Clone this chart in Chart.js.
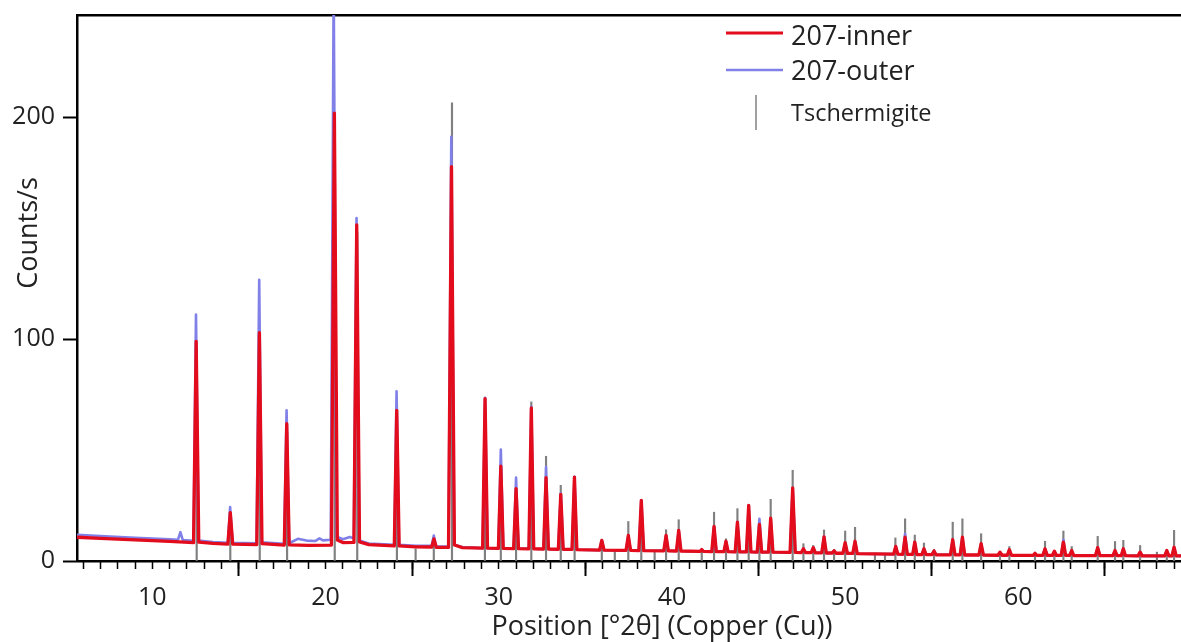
<!DOCTYPE html>
<html><head><meta charset="utf-8">
<script src="https://cdn.jsdelivr.net/npm/chart.js@4/dist/chart.umd.min.js"></script>
<style>html,body{margin:0;padding:0;background:#fff;overflow:hidden}canvas{display:block}</style>
</head><body>
<canvas id="c" width="1181" height="642"></canvas>
<script>
// ---- data ----
const seriesNames = ['207-inner', '207-outer', 'Tschermigite'];
const xAxisTitle = 'Position [°2θ] (Copper (Cu))';
const yAxisTitle = 'Counts/s';
const xTickValues = [10, 20, 30, 40, 50, 60];
const yTickValues = [0, 100, 200];
const xRange = [5.65, 69.39];
const yRange = [0, 246.1];

// 207-inner  [2θ, counts/s]
const inner = [[5.65,10.7],[7,10.2],[9,9.5],[11,8.8],[12.38,8.3],[12.53,99.0],[12.68,8.5],[13.5,7.9],[14.36,7.6],[14.5,21.8],[14.64,7.6],[16.03,7.4],[16.18,102.9],[16.33,7.8],[17.62,7.2],[17.76,61.9],[17.9,7.3],[19.0,7.0],[20.34,7.2],[20.51,201.9],[20.68,9.5],[21.0,8.3],[21.64,8.4],[21.8,151.5],[21.96,8.6],[22.5,7.4],[23.97,6.8],[24.11,67.9],[24.25,6.8],[25.2,6.4],[26.13,6.3],[26.26,10.0],[26.39,6.2],[27.1,6.1],[27.27,177.7],[27.44,7.2],[27.9,6.0],[29.07,5.8],[29.21,73.2],[29.35,5.8],[29.98,5.7],[30.12,42.7],[30.26,5.7],[30.86,5.6],[31.0,32.6],[31.14,5.6],[31.74,5.5],[31.88,69.0],[32.02,5.5],[32.59,5.4],[32.73,37.6],[32.87,5.4],[33.44,5.3],[33.58,30.0],[33.72,5.3],[34.23,5.2],[34.37,37.8],[34.51,5.1],[35.82,4.9],[35.95,9.3],[36.08,4.9],[37.35,4.8],[37.48,11.5],[37.61,4.8],[38.09,4.7],[38.23,27.3],[38.37,4.7],[39.53,4.6],[39.66,11.5],[39.79,4.6],[40.26,4.5],[40.39,13.8],[40.52,4.5],[41.62,4.3],[41.72,5.2],[41.82,4.3],[42.3,4.2],[42.43,15.6],[42.56,4.2],[43.0,4.2],[43.12,8.9],[43.24,4.2],[43.65,4.1],[43.78,17.5],[43.91,4.1],[44.3,4.1],[44.43,25.1],[44.56,4.1],[44.92,4.0],[45.05,16.5],[45.18,4.0],[45.57,4.0],[45.7,19.3],[45.83,4.0],[46.82,3.9],[46.97,33.0],[47.12,3.9],[47.47,3.8],[47.59,5.5],[47.71,3.8],[48.04,3.8],[48.16,6.0],[48.28,3.7],[48.65,3.7],[48.78,10.9],[48.91,3.6],[49.24,3.6],[49.36,4.6],[49.48,3.5],[49.87,3.5],[50.0,8.3],[50.13,3.4],[50.44,3.4],[50.57,8.9],[50.7,3.3],[52.8,3.1],[52.92,6.6],[53.04,3.1],[53.33,3.0],[53.46,10.7],[53.59,3.0],[53.9,3.0],[54.02,8.5],[54.14,2.9],[54.43,2.9],[54.55,5.5],[54.67,2.9],[55.01,2.9],[55.13,4.5],[55.25,2.8],[56.08,2.8],[56.21,9.6],[56.34,2.8],[56.64,2.8],[56.77,10.7],[56.9,2.7],[57.72,2.7],[57.85,7.8],[57.98,2.7],[58.82,2.6],[58.94,4.0],[59.06,2.6],[59.36,2.6],[59.48,5.1],[59.6,2.6],[60.85,2.5],[60.96,3.5],[61.07,2.5],[61.41,2.5],[61.54,5.5],[61.67,2.5],[61.96,2.5],[62.08,4.4],[62.2,2.5],[62.47,2.5],[62.6,8.5],[62.73,2.5],[62.96,2.5],[63.08,4.7],[63.2,2.4],[64.45,2.4],[64.58,6.0],[64.71,2.4],[65.46,2.4],[65.58,4.7],[65.7,2.4],[65.94,2.4],[66.06,5.5],[66.18,2.4],[66.91,2.3],[67.03,4.0],[67.15,2.3],[68.45,2.3],[68.57,4.7],[68.69,2.3],[68.87,2.3],[68.99,6.2],[69.11,2.3],[69.5,2.3]];

// 207-outer  [2θ, counts/s]
const outer = [[5.65,11.8],[7,11.3],[9,10.5],[11,9.8],[11.48,9.6],[11.62,13.0],[11.76,9.4],[12.38,9.1],[12.52,111.1],[12.67,9.2],[13.5,8.5],[14.36,8.2],[14.49,24.3],[14.63,8.2],[16.02,8.0],[16.17,126.8],[16.32,8.4],[17.61,7.8],[17.75,67.9],[17.9,8.0],[18.4,10.0],[18.9,9.2],[19.4,9.0],[19.65,10.2],[19.85,9.3],[20.3,9.6],[20.47,260],[20.64,11.0],[21.0,9.8],[21.4,10.8],[21.63,10.2],[21.79,154.6],[21.95,9.2],[22.5,7.9],[23.97,7.3],[24.1,76.5],[24.24,7.3],[25.2,6.8],[26.12,6.8],[26.25,11.5],[26.38,6.6],[27.1,6.5],[27.26,191.2],[27.43,7.5],[27.9,6.2],[29.07,5.8],[29.21,73.6],[29.35,5.8],[29.98,5.7],[30.12,50.2],[30.26,5.7],[30.86,5.6],[31.0,37.6],[31.14,5.6],[31.74,5.5],[31.88,69.5],[32.02,5.5],[32.59,5.4],[32.73,42.4],[32.87,5.4],[33.44,5.3],[33.58,30.5],[33.72,5.3],[34.23,5.2],[34.37,38.0],[34.51,5.1],[35.82,4.9],[35.95,9.3],[36.08,4.9],[37.35,4.8],[37.48,11.5],[37.61,4.8],[38.09,4.7],[38.23,27.3],[38.37,4.7],[39.53,4.6],[39.66,11.5],[39.79,4.6],[40.26,4.5],[40.39,13.8],[40.52,4.5],[41.62,4.3],[41.72,5.2],[41.82,4.3],[42.3,4.2],[42.43,15.6],[42.56,4.2],[43.0,4.2],[43.12,8.9],[43.24,4.2],[43.65,4.1],[43.78,17.5],[43.91,4.1],[44.3,4.1],[44.43,25.1],[44.56,4.1],[44.92,4.0],[45.05,19.0],[45.18,4.0],[45.57,4.0],[45.7,19.3],[45.83,4.0],[46.82,3.9],[46.97,33.0],[47.12,3.9],[47.47,3.8],[47.59,5.5],[47.71,3.8],[48.04,3.8],[48.16,6.0],[48.28,3.7],[48.65,3.7],[48.78,10.9],[48.91,3.6],[49.24,3.6],[49.36,4.6],[49.48,3.5],[49.87,3.5],[50.0,8.3],[50.13,3.4],[50.44,3.4],[50.57,8.9],[50.7,3.3],[52.8,3.1],[52.92,6.6],[53.04,3.1],[53.33,3.0],[53.46,12.3],[53.59,3.0],[53.9,3.0],[54.02,8.5],[54.14,2.9],[54.43,2.9],[54.55,5.5],[54.67,2.9],[55.01,2.9],[55.13,4.5],[55.25,2.8],[56.08,2.8],[56.21,9.6],[56.34,2.8],[56.64,2.8],[56.77,10.7],[56.9,2.7],[57.72,2.7],[57.85,7.8],[57.98,2.7],[58.82,2.6],[58.94,4.0],[59.06,2.6],[59.36,2.6],[59.48,5.1],[59.6,2.6],[60.85,2.5],[60.96,3.5],[61.07,2.5],[61.41,2.5],[61.54,5.5],[61.67,2.5],[61.96,2.5],[62.08,4.4],[62.2,2.5],[62.47,2.5],[62.6,9.6],[62.73,2.5],[62.96,2.5],[63.08,4.7],[63.2,2.4],[64.45,2.4],[64.58,6.0],[64.71,2.4],[65.46,2.4],[65.58,4.7],[65.7,2.4],[65.94,2.4],[66.06,5.5],[66.18,2.4],[66.91,2.3],[67.03,4.0],[67.15,2.3],[68.45,2.3],[68.57,4.7],[68.69,2.3],[68.87,2.3],[68.99,6.2],[69.11,2.3],[69.5,2.3]];

// Tschermigite reference lines [2θ, height]
const sticks = [[12.56,95],[14.5,20],[16.2,98],[17.78,58],[20.53,195],[21.83,148],[24.12,64],[25.2,5.5],[26.25,9],[27.3,206.5],[29.2,70],[30.12,41],[31.0,30],[31.88,71.7],[32.73,47.2],[33.58,34.1],[34.38,35],[35.95,8],[36.7,4.8],[37.48,17.8],[38.23,25],[39.0,4.5],[39.66,14.1],[40.39,18.6],[41.72,5],[42.43,22],[43.12,10],[43.78,23.6],[44.43,24.5],[45.05,16],[45.7,27.8],[46.97,40.9],[47.59,7.8],[48.16,7.0],[48.78,14.0],[49.36,5.2],[50.0,13.5],[50.57,15.2],[51.72,3.5],[52.3,3.5],[52.9,10.4],[53.46,19],[54.02,11.7],[54.55,8.1],[55.13,5.2],[56.21,17.5],[56.77,19],[57.85,12.3],[58.94,4],[59.48,6.5],[60.96,3],[61.54,8.9],[62.08,4.5],[62.6,13.5],[63.08,6.5],[64.58,11.1],[65.58,8.8],[66.06,9.3],[67.03,7.0],[68.0,4],[68.57,4.5],[68.99,13.8]];

// ---- styles ----
const FONT = '"Open Sans", "Noto Sans", sans-serif';
const RED = 'rgb(226,12,28)';
const BLUE = 'rgb(128,128,232)';
const GRAY = 'rgb(128,128,128)';
const TEXT = '#222';

const toXY = arr => arr.map(p => ({x: p[0], y: p[1]}));
const noPad = s => { s.paddingTop = 0; s.paddingBottom = 0; s.paddingLeft = 0; s.paddingRight = 0; };

const overlay = {
  id: 'overlay',
  afterDraw(chart) {
    const {ctx} = chart;
    const ds = chart.data.datasets;
    ctx.save();
    ctx.fillStyle = TEXT;
    // y title
    ctx.save();
    ctx.font = '27px ' + FONT;
    ctx.translate(37, 233);
    ctx.rotate(-Math.PI / 2);
    ctx.textAlign = 'center';
    ctx.textBaseline = 'alphabetic';
    ctx.fillText(yAxisTitle, 0, 0);
    ctx.restore();
    // x title
    ctx.font = '27px ' + FONT;
    ctx.textAlign = 'center';
    ctx.textBaseline = 'alphabetic';
    ctx.fillText(xAxisTitle, 662, 635);
    // legend
    const lx0 = 726, lx1 = 783, tx = 791;
    ctx.textAlign = 'left';
    ctx.lineCap = 'butt';
    ctx.strokeStyle = ds[0].borderColor; ctx.lineWidth = 3;
    ctx.beginPath(); ctx.moveTo(lx0, 33); ctx.lineTo(lx1, 33); ctx.stroke();
    ctx.strokeStyle = ds[1].borderColor; ctx.lineWidth = 2.5;
    ctx.beginPath(); ctx.moveTo(lx0, 70); ctx.lineTo(lx1, 70); ctx.stroke();
    ctx.strokeStyle = ds[2].backgroundColor; ctx.lineWidth = 1.5;
    ctx.beginPath(); ctx.moveTo(756, 95); ctx.lineTo(756, 130); ctx.stroke();
    ctx.font = '27px ' + FONT;
    ctx.fillText(ds[0].label, tx, 45);
    ctx.fillText(ds[1].label, tx, 80);
    ctx.font = '23.5px ' + FONT;
    ctx.fillText(ds[2].label, tx, 121);
    ctx.restore();
  }
};

new Chart(document.getElementById('c'), {
  type: 'line',
  data: {
    datasets: [
      {label: seriesNames[0], data: toXY(inner), borderColor: RED, borderWidth: 3.3, borderJoinStyle: 'round', borderCapStyle: 'round', pointRadius: 0, tension: 0, xAxisID: 'x', yAxisID: 'y'},
      {label: seriesNames[1], data: toXY(outer), borderColor: BLUE, borderWidth: 2.6, borderJoinStyle: 'round', pointRadius: 0, tension: 0, xAxisID: 'x', yAxisID: 'y'},
      {type: 'bar', label: seriesNames[2], data: toXY(sticks), backgroundColor: GRAY, borderWidth: 0, barThickness: 1.5, grouped: false, xAxisID: 'x', yAxisID: 'y'}
    ]
  },
  options: {
    responsive: false,
    animation: false,
    events: [],
    layout: {padding: {top: 15, left: 0, right: 0, bottom: 0}},
    plugins: {legend: {display: false}, tooltip: {enabled: false}, title: {display: false}},
    scales: {
      xMinor: {
        type: 'linear', position: 'bottom', weight: 0, min: xRange[0], max: xRange[1], offset: false,
        afterFit: s => { s.height = 0; noPad(s); },
        border: {display: false},
        grid: {drawOnChartArea: false, drawTicks: true, tickLength: 8, tickWidth: 1.5, tickColor: '#000'},
        ticks: {display: false, stepSize: 1, includeBounds: false}
      },
      x: {
        type: 'linear', position: 'bottom', weight: 1, min: xRange[0], max: xRange[1], offset: false,
        afterBuildTicks: s => { s.ticks = xTickValues.map(v => ({value: v})); },
        afterFit: s => { s.height = 81; noPad(s); },
        border: {display: true, color: '#000', width: 2.5},
        grid: {drawOnChartArea: false, drawTicks: true, tickLength: 15, tickWidth: 2, tickColor: '#000'},
        ticks: {color: TEXT, font: {family: FONT, size: 25}, padding: 7, autoSkip: false, maxRotation: 0}
      },
      xTop: {
        type: 'linear', position: 'top', min: xRange[0], max: xRange[1], offset: false,
        afterFit: s => { s.height = 0; noPad(s); },
        border: {display: true, color: '#000', width: 2.5},
        grid: {drawOnChartArea: false, drawTicks: false},
        ticks: {display: false}
      },
      y: {
        type: 'linear', position: 'left', min: yRange[0], max: yRange[1],
        afterBuildTicks: s => { s.ticks = yTickValues.map(v => ({value: v})); },
        afterFit: s => { s.width = 77; noPad(s); },
        border: {display: true, color: '#000', width: 2.5},
        grid: {drawOnChartArea: false, drawTicks: true, tickLength: 14, tickWidth: 2, tickColor: '#000'},
        ticks: {color: TEXT, font: {family: FONT, size: 25}, padding: 8}
      }
    }
  },
  plugins: [overlay]
});
</script>
</body></html>
